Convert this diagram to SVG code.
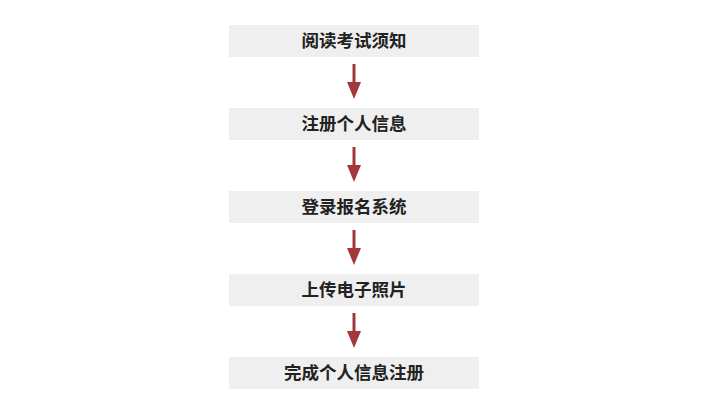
<svg xmlns="http://www.w3.org/2000/svg" width="721" height="410" viewBox="0 0 721 410">
<style>
.box{fill:#efefef}
.t{font-family:"Noto Sans CJK SC",sans-serif;font-size:17.5px;font-weight:bold;fill:#222;text-anchor:middle}
.sh{stroke:#a3373b;stroke-width:3}
.hd{fill:#a3373b}
</style>
<rect width="721" height="410" fill="#fff"/>
<g id="n1"><rect class="box" x="229" y="25" width="250" height="32"/><text class="t" x="354" y="47">阅读考试须知</text></g>
<g id="n2"><rect class="box" x="229" y="108" width="250" height="32"/><text class="t" x="354" y="130">注册个人信息</text></g>
<g id="n3"><rect class="box" x="229" y="191" width="250" height="32"/><text class="t" x="354" y="213">登录报名系统</text></g>
<g id="n4"><rect class="box" x="229" y="274" width="250" height="32"/><text class="t" x="354" y="296">上传电子照片</text></g>
<g id="n5"><rect class="box" x="229" y="357" width="250" height="32"/><text class="t" x="354" y="379">完成个人信息注册</text></g>
<g id="connectors">
<g transform="translate(0,0)"><line class="sh" x1="354" y1="64" x2="354" y2="83"/><polygon class="hd" points="347,82 361,82 354,99"/></g>
<g transform="translate(0,83)"><line class="sh" x1="354" y1="64" x2="354" y2="83"/><polygon class="hd" points="347,82 361,82 354,99"/></g>
<g transform="translate(0,166)"><line class="sh" x1="354" y1="64" x2="354" y2="83"/><polygon class="hd" points="347,82 361,82 354,99"/></g>
<g transform="translate(0,249)"><line class="sh" x1="354" y1="64" x2="354" y2="83"/><polygon class="hd" points="347,82 361,82 354,99"/></g>
</g>
</svg>
